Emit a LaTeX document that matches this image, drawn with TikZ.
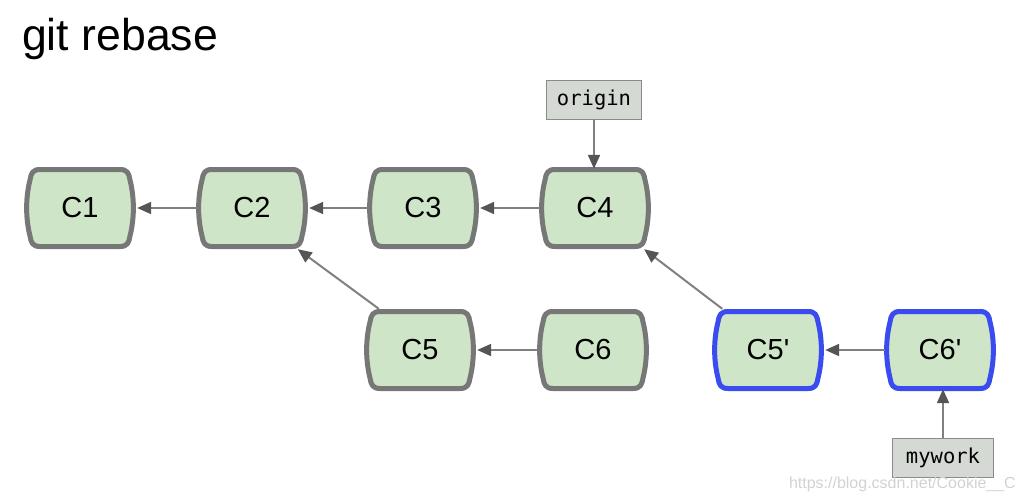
\documentclass[tikz,border=0pt]{standalone}
\usepackage{fontspec}
\setmainfont{Liberation Sans}[Ligatures=TeXOff]
\setmonofont{DejaVu Sans Mono}
\usetikzlibrary{arrows.meta,backgrounds}
\definecolor{cfill}{HTML}{CFE5C8}
\definecolor{cgray}{HTML}{777777}
\definecolor{cblue}{HTML}{3A4CF0}
\definecolor{lfill}{HTML}{D4D9D3}
\definecolor{lborder}{HTML}{8A8A8A}
\definecolor{arr}{HTML}{808080}
\definecolor{arrhead}{HTML}{555555}
\tikzset{
  commit/.style={minimum width=110pt,minimum height=82pt,inner sep=0pt,
    font=\fontsize{29}{32}\selectfont},
  cshape/.style={line width=5pt,fill=cfill,draw=cgray},
  bshape/.style={cshape,draw=cblue},
  label/.style={draw=lborder,line width=1.5pt,fill=lfill,inner sep=0pt,
    minimum width=95pt,minimum height=39pt,font=\ttfamily\fontsize{20.5}{22}\selectfont},
  link/.style={draw=arr,line width=2pt,
    -{Triangle[length=14pt,width=12pt,color=arrhead]}}
}
\newcommand\barrelpath{
  (-40,-38.5) -- (40,-38.5)
  .. controls (47,-38.5) and (49,-35) .. (50,-28)
  .. controls (54.5,-10) and (54.5,10) .. (50,28)
  .. controls (49,35) and (47,38.5) .. (40,38.5)
  -- (-40,38.5)
  .. controls (-47,38.5) and (-49,35) .. (-50,28)
  .. controls (-54.5,10) and (-54.5,-10) .. (-50,-28)
  .. controls (-49,-35) and (-47,-38.5) .. (-40,-38.5) -- cycle}
\begin{document}
\begin{tikzpicture}[x=1pt,y=-1pt]
\useasboundingbox (0,0) rectangle (1019,501);
\node[anchor=base west,inner sep=0pt,font=\fontsize{44.6}{48}\selectfont] (title) at (22,50) {git rebase};
\node[commit] (c1) at (80,208) {C1};
\node[commit] (c2) at (252,208) {C2};
\node[commit] (c3) at (423,208) {C3};
\node[commit] (c4) at (595,208) {C4};
\node[commit] (c5) at (420,350) {C5};
\node[commit] (c6) at (593,350) {C6};
\node[commit] (c5p) at (768,350) {C5'};
\node[commit] (c6p) at (940,350) {C6'};
\node[label] (origin) at (594,100) {origin};
\node[label,minimum width=101pt] (mywork) at (943,458) {mywork};
\begin{scope}[on background layer]
  \foreach \n in {c1,c2,c3,c4,c5,c6}{
    \begin{scope}[shift={(\n.center)}]
      \path[cshape] \barrelpath;
    \end{scope}}
  \foreach \n in {c5p,c6p}{
    \begin{scope}[shift={(\n.center)}]
      \path[bshape] \barrelpath;
    \end{scope}}
\end{scope}
\draw[link] (c2.west) -- ([xshift=2pt]c1.east);
\draw[link] (c3.west) -- ([xshift=2pt]c2.east);
\draw[link] (c4.west) -- ([xshift=2pt]c3.east);
\draw[link] (c6.west) -- ([xshift=2pt]c5.east);
\draw[link] (c6p.west) -- ([xshift=2pt]c5p.east);
\draw[link] (c5.135) -- (c2.-42);
\draw[link] (c5p.138) -- (c4.-40);
\draw[link] (origin.south) -- ([yshift=-2pt]origin.south |- c4.north);
\draw[link] (mywork.north) -- ([yshift=2pt]mywork.north |- c6p.south);
\node[anchor=east,inner sep=0pt,text=gray!35,font=\fontsize{16}{18}\selectfont] (wm) at (1016,484) {https://blog.csdn.net/Cookie\_\_C};
\end{tikzpicture}
\end{document}
